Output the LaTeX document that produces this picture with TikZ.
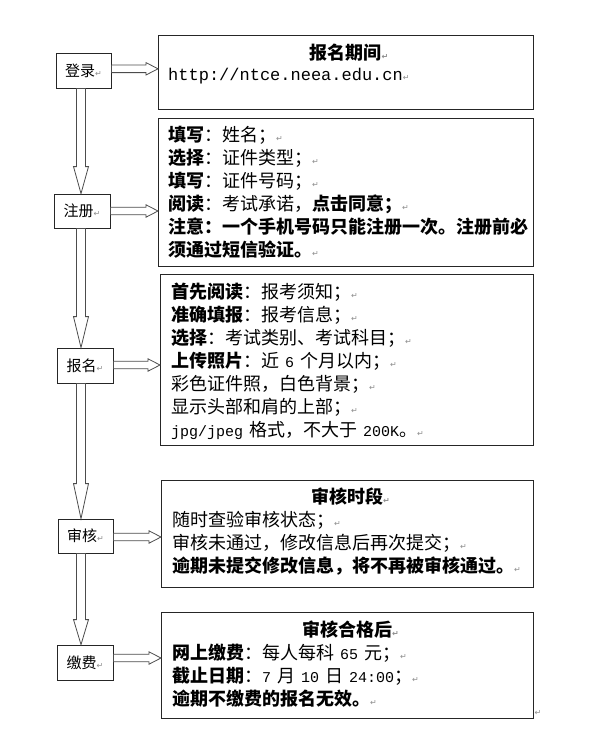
\documentclass[tikz,border=0pt]{standalone}
\usepackage{fontspec}
\setmainfont{Noto Sans CJK SC}
\newfontfamily\monofont{Liberation Mono}
\newfontfamily\dvfont{DejaVu Sans}
\usetikzlibrary{calc}
\newcommand\parmark{{\dvfont\fontsize{8bp}{8bp}\selectfont\color{black!45}↵}}
\newcommand\latn[1]{{\monofont\fontsize{15bp}{15bp}\selectfont #1}}
\newcommand\varrow[3]{\draw[blk] let \p1=(#1.south), \p2=(#2.north) in
 (76.5bp,\y1) -- (76.5bp,\y2+#3bp) -- (73.5bp,\y2+#3bp) -- (81bp,\y2) -- (88.5bp,\y2+#3bp) -- (85.5bp,\y2+#3bp) -- (85.5bp,\y1) -- cycle;}
\newcommand\harrow[3]{\draw[blk] let \p1=(#1.east), \p2=(#2.west) in
 (\x1,-#3bp+3.8bp) -- (\x2-12bp,-#3bp+3.8bp) -- (\x2-12bp,-#3bp+6.2bp) -- (\x2,-#3bp) -- (\x2-12bp,-#3bp-6.2bp) -- (\x2-12bp,-#3bp-3.8bp) -- (\x1,-#3bp-3.8bp) -- cycle;}
\tikzset{
  blk/.style={draw=black!70, line width=0.8bp, fill=none, line join=miter},
  lbox/.style={draw=black!85, line width=0.8bp, inner sep=0, minimum width=#1, minimum height=35bp,
     font=\fontsize{15bp}{15bp}\selectfont},
  rbox/.style={draw=black!85, line width=0.8bp, inner sep=0, anchor=north west, fill=none},
  body/.style={anchor=base west, inner sep=0, text width=372bp, align=left,
     font=\fontsize{18bp}{23bp}\selectfont},
  ttl/.style={anchor=base, inner sep=0, font=\fontsize{18bp}{23bp}\selectfont\bfseries},
}
\begin{document}
\begin{tikzpicture}[x=1bp,y=-1bp]
\useasboundingbox (0,0) rectangle (596,740);
% left step boxes
\node[lbox=55bp] (l1) at (83.5,70.5) {登录\parmark};
\node[lbox=56bp, minimum height=34bp] (l2) at (82,211) {注册\parmark};
\node[lbox=56bp] (l3) at (85,365.5) {报名\parmark};
\node[lbox=55bp, minimum height=34bp] (l4) at (85.5,536) {审核\parmark};
\node[lbox=56bp] (l5) at (85,662.5) {缴费\parmark};
% right info boxes
\node[rbox, minimum width=375bp, minimum height=74bp] (r1) at (158,35) {};
\node[rbox, minimum width=375bp, minimum height=148bp] (r2) at (158,118) {};
\node[rbox, minimum width=373bp, minimum height=171bp] (r3) at (160,274) {};
\node[rbox, minimum width=372bp, minimum height=107bp] (r4) at (161,480) {};
\node[rbox, minimum width=372bp, minimum height=106bp] (r5) at (161,612) {};
% texts
\node[ttl] (t1) at (345.5,59.8) {报名期间\rlap{\parmark}};
\node[anchor=base west, inner sep=0, font=\monofont\fontsize{17bp}{20bp}\selectfont] (u1) at (168,80) {http://ntce.neea.edu.cn\parmark};
\node[body] (b2) at (168,141.8) {\textbf{填写}：姓名；\parmark\\
\textbf{选择}：证件类型；\parmark\\
\textbf{填写}：证件号码；\parmark\\
\textbf{阅读}：考试承诺，\textbf{点击同意；}\parmark\\
\textbf{注意：一个手机号码只能注册一次。注册前必}\\
\textbf{须通过短信验证。}\parmark};
\node[body] (b3) at (171,298.8) {\textbf{首先阅读}：报考须知；\parmark\\
\textbf{准确填报}：报考信息；\parmark\\
\textbf{选择}：考试类别、考试科目；\parmark\\
\textbf{上传照片}：近 \latn{6} 个月以内；\parmark\\
彩色证件照，白色背景；\parmark\\
显示头部和肩的上部；\parmark\\
\latn{jpg/jpeg} 格式，不大于 \latn{200K}。\parmark};
\node[ttl] (t4) at (347,503.8) {审核时段\rlap{\parmark}};
\node[body] (b4) at (172,526.8) {随时查验审核状态；\parmark\\
审核未通过，修改信息后再次提交；\parmark\\
\textbf{逾期未提交修改信息，将不再被审核通过。}\parmark};
\node[ttl] (t5) at (347,636.8) {审核合格后\rlap{\parmark}};
\node[body] (b5) at (172,659.8) {\textbf{网上缴费}：每人每科 \latn{65} 元；\parmark\\
\textbf{截止日期}：\latn{7} 月 \latn{10} 日 \latn{24:00}；\parmark\\
\textbf{逾期不缴费的报名无效。}\parmark};
\node[inner sep=0] (pm) at (538,713) {\parmark};
% vertical block arrows
\varrow{l1}{l2}{27}
\varrow{l2}{l3}{31}
\varrow{l3}{l4}{35}
\varrow{l4}{l5}{25}
% horizontal block arrows
\harrow{l1}{r1}{68.8}
\harrow{l2}{r2}{211}
\harrow{l3}{r3}{365}
\harrow{l4}{r4}{537}
\harrow{l5}{r5}{658}
\end{tikzpicture}
\end{document}
